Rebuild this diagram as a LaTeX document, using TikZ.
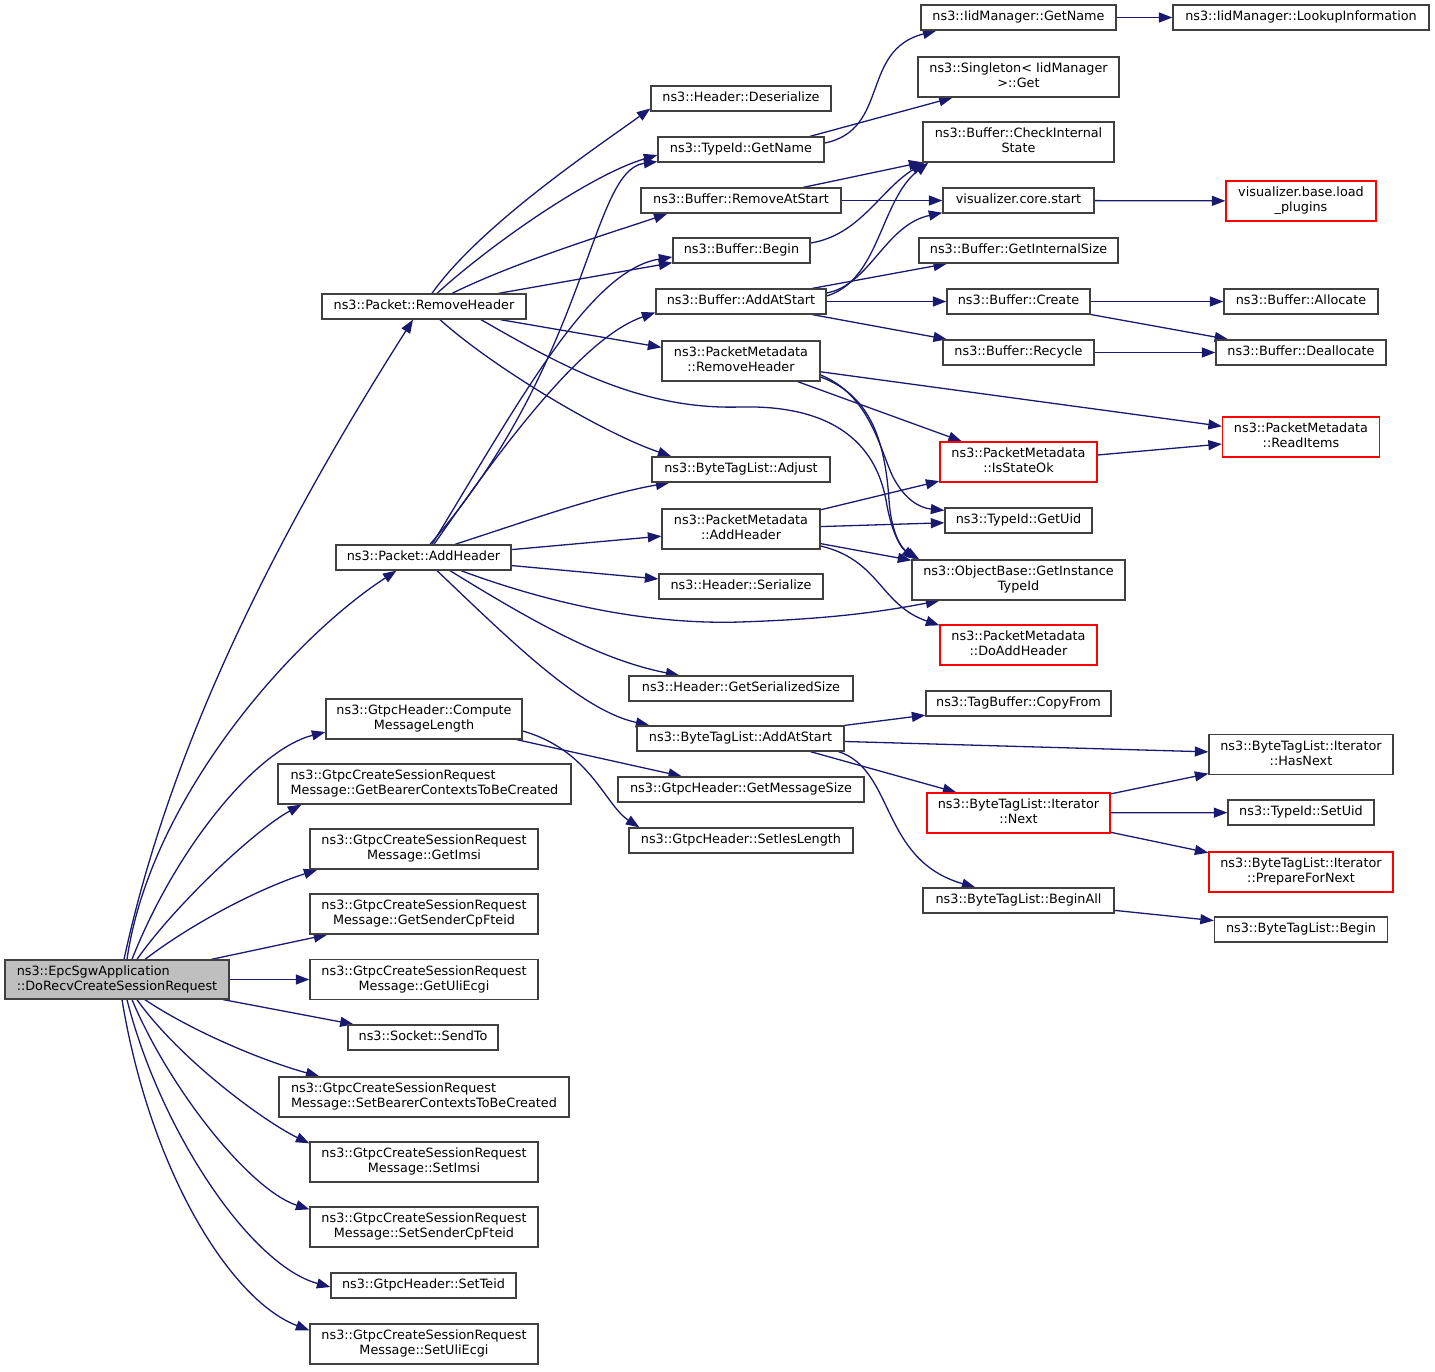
\documentclass[tikz,border=0pt]{standalone}
\usepackage{fontspec}
\setmainfont{DejaVu Sans}
\usetikzlibrary{arrows.meta,calc}
\definecolor{edgec}{HTML}{191970}
\definecolor{boxc}{HTML}{404040}
\definecolor{rootfill}{HTML}{BFBFBF}
\definecolor{redc}{HTML}{FF0000}
\newcommand{\nfont}{\fontsize{12.8}{15}\selectfont}
\newcommand{\mystrut}{\vrule height 9.6pt depth 3.2pt width 0pt}
\pgfdeclarelayer{bg}
\pgfsetlayers{bg,main}
\begin{document}
\begin{tikzpicture}[x=1pt,y=-1pt,
  box/.style={draw=boxc, line width=1.3pt, fill=white, inner sep=0pt, font=\nfont, align=center,
    execute at begin node=\mystrut, execute at end node=\mystrut},
  rbox/.style={box, draw=redc},
  wh/.style 2 args={minimum width=#1pt, minimum height=#2pt},
  e/.style={draw=edgec, line width=1.3pt, -{Triangle[length=13.5pt,width=10pt]}}]
\useasboundingbox (0,0) rectangle (1435,1371);

% root
\node[box,wh={224}{39},fill=rootfill,align=left] (root) at (117,979.5) {ns3::EpcSgwApplication\\::DoRecvCreateSessionRequest};

% column 1
\node[box,wh={204}{25}] (prh) at (424,306.5) {ns3::Packet::RemoveHeader};
\node[box,wh={175}{25}] (pah) at (423.5,557.5) {ns3::Packet::AddHeader};
\node[box,wh={196}{40}] (gcml) at (424,719) {ns3::GtpcHeader::Compute\\MessageLength};
\node[box,wh={293}{40},align=left] (gbc) at (424.5,784) {ns3::GtpcCreateSessionRequest\\Message::GetBearerContextsToBeCreated};
\node[box,wh={228}{40}] (gimsi) at (424,849) {ns3::GtpcCreateSessionRequest\\Message::GetImsi};
\node[box,wh={228}{40}] (gscf) at (424,914) {ns3::GtpcCreateSessionRequest\\Message::GetSenderCpFteid};
\node[box,wh={228}{40}] (guli) at (424,979.5) {ns3::GtpcCreateSessionRequest\\Message::GetUliEcgi};
\node[box,wh={150}{25}] (sendto) at (423,1037.5) {ns3::Socket::SendTo};
\node[box,wh={290}{40},align=left] (sbc) at (424,1097) {ns3::GtpcCreateSessionRequest\\Message::SetBearerContextsToBeCreated};
\node[box,wh={228}{40}] (simsi) at (424,1162) {ns3::GtpcCreateSessionRequest\\Message::SetImsi};
\node[box,wh={228}{40}] (sscf) at (424,1227) {ns3::GtpcCreateSessionRequest\\Message::SetSenderCpFteid};
\node[box,wh={185}{25}] (steid) at (423.5,1285.5) {ns3::GtpcHeader::SetTeid};
\node[box,wh={228}{40}] (suli) at (424,1344) {ns3::GtpcCreateSessionRequest\\Message::SetUliEcgi};

% column 2
\node[box,wh={180}{25}] (hdes) at (741,98.5) {ns3::Header::Deserialize};
\node[box,wh={166}{25}] (tgn) at (741,149.5) {ns3::TypeId::GetName};
\node[box,wh={200}{25}] (brs) at (741,200.5) {ns3::Buffer::RemoveAtStart};
\node[box,wh={137}{25}] (bbeg) at (741.5,250.5) {ns3::Buffer::Begin};
\node[box,wh={170}{25}] (bas) at (741,301.5) {ns3::Buffer::AddAtStart};
\node[box,wh={158}{40}] (pmrh) at (741,361) {ns3::PacketMetadata\\::RemoveHeader};
\node[box,wh={178}{25}] (bta) at (741,469.5) {ns3::ByteTagList::Adjust};
\node[box,wh={158}{40}] (pmah) at (741,529) {ns3::PacketMetadata\\::AddHeader};
\node[box,wh={164}{25}] (hser) at (741,586.5) {ns3::Header::Serialize};
\node[box,wh={224}{25}] (hgss) at (741,688.5) {ns3::Header::GetSerializedSize};
\node[box,wh={207}{25}] (btaas) at (740.5,738.5) {ns3::ByteTagList::AddAtStart};
\node[box,wh={246}{25}] (gms) at (741,789.5) {ns3::GtpcHeader::GetMessageSize};
\node[box,wh={224}{25}] (sil) at (741,840.5) {ns3::GtpcHeader::SetIesLength};

% column 3
\node[box,wh={195}{25}] (iidgn) at (1018.5,17.5) {ns3::IidManager::GetName};
\node[box,wh={201}{40}] (sing) at (1018.5,77) {ns3::Singleton< IidManager\\>::Get};
\node[box,wh={191}{40}] (bcis) at (1018.5,142) {ns3::Buffer::CheckInternal\\State};
\node[box,wh={151}{25}] (vcs) at (1018.5,200.5) {visualizer.core.start};
\node[box,wh={199}{25}] (bgis) at (1018.5,250.5) {ns3::Buffer::GetInternalSize};
\node[box,wh={143}{25}] (bcre) at (1018.5,301.5) {ns3::Buffer::Create};
\node[box,wh={151}{25}] (brec) at (1018.5,352.5) {ns3::Buffer::Recycle};
\node[rbox,wh={157}{40}] (pmiso) at (1018.5,462) {ns3::PacketMetadata\\::IsStateOk};
\node[box,wh={147}{25}] (tguid) at (1018.5,520.5) {ns3::TypeId::GetUid};
\node[box,wh={213}{40}] (obgit) at (1018.5,580) {ns3::ObjectBase::GetInstance\\TypeId};
\node[rbox,wh={157}{40}] (pmdah) at (1018.5,645) {ns3::PacketMetadata\\::DoAddHeader};
\node[box,wh={185}{25}] (tbcf) at (1018.5,703.5) {ns3::TagBuffer::CopyFrom};
\node[rbox,wh={183}{40}] (itnext) at (1018.5,813) {ns3::ByteTagList::Iterator\\::Next};
\node[box,wh={191}{25}] (btba) at (1018.5,900.5) {ns3::ByteTagList::BeginAll};

% column 4
\node[box,wh={256}{25}] (lookup) at (1301,17.5) {ns3::IidManager::LookupInformation};
\node[rbox,wh={150}{40}] (vbl) at (1301,201) {visualizer.base.load\\\_plugins};
\node[box,wh={154}{25}] (balloc) at (1301,301.5) {ns3::Buffer::Allocate};
\node[box,wh={170}{25}] (bdealloc) at (1301,352.5) {ns3::Buffer::Deallocate};
\node[rbox,wh={157}{40}] (pmri) at (1301,437) {ns3::PacketMetadata\\::ReadItems};
\node[box,wh={184}{40}] (ithas) at (1301,754.5) {ns3::ByteTagList::Iterator\\::HasNext};
\node[box,wh={146}{25}] (tgsuid) at (1301,812.5) {ns3::TypeId::SetUid};
\node[rbox,wh={184}{40}] (itpfn) at (1301,872) {ns3::ByteTagList::Iterator\\::PrepareForNext};
\node[box,wh={173}{25}] (btbeg) at (1301,929.5) {ns3::ByteTagList::Begin};

\begin{pgfonlayer}{bg}
% root edges
\draw[e] ($(root.north)+(7,0)$) .. controls (165,770) and (254.5,569) .. ($(prh.south)+(-11,0)$);
\draw[e] ($(root.north)+(10,0)$) .. controls (150,800) and (290,640) .. ($(pah.south)+(-27,0)$);
\draw[e] ($(root.north)+(15,0)$) .. controls (175,850) and (255,750) .. ($(gcml.west)+(0,13)$);
\draw[e] ($(root.north)+(20,0)$) .. controls (175,905) and (255,830) .. ($(gbc.south west)+(24,0)$);
\draw[e] ($(root.north)+(28,0)$) .. controls (190,925) and (255,890) .. ($(gimsi.south west)+(8,0)$);
\draw[e] (root) -- (gscf);
\draw[e] (root) -- (guli);
\draw[e] (root) -- (sendto);
\draw[e] ($(root.south)+(28,0)$) .. controls (190,1030) and (260,1060) .. ($(sbc.north west)+(41,0)$);
\draw[e] ($(root.south)+(20,0)$) .. controls (180,1060) and (265,1122) .. ($(simsi.north west)+(0,2)$);
\draw[e] ($(root.south)+(15,0)$) .. controls (170,1090) and (250,1190) .. ($(sscf.north west)+(0,3)$);
\draw[e] ($(root.south)+(10,0)$) .. controls (160,1130) and (250,1265) .. ($(steid.west)+(0,1.5)$);
\draw[e] ($(root.south)+(5,0)$) .. controls (150,1170) and (230,1300) .. ($(suli.north west)+(0,7)$);

% Packet::RemoveHeader
\draw[e] ($(prh.north)+(8,0)$) .. controls (480,225) and (600,145) .. ($(hdes.west)+(0,10)$);
\draw[e] ($(prh.north)+(13,0)$) .. controls (490,245) and (590,175) .. ($(tgn.west)+(0,5.5)$);
\draw[e] ($(prh.north)+(28,0)$) .. controls (520,260) and (620,230) .. ($(brs.south west)+(27,0)$);
\draw[e] (prh) -- (bbeg);
\draw[e] (prh) -- (pmrh);
\draw[e] ($(prh.south)+(16,0)$) .. controls (490,365) and (600,432) .. ($(bta.north west)+(20,0)$);
\draw[e] ($(prh.south)+(57,0)$) .. controls (560,365) and (640,410) .. (740,407) .. controls (860,404) and (880,470) .. (886,500) .. controls (890,525) and (898,545) .. ($(obgit.north west)+(4,0)$);

% Packet::AddHeader
\draw[e] ($(pah.north)+(6.5,0)$) .. controls (590,360) and (590,170) .. ($(tgn.south west)+(0,-1)$);
\draw[e] ($(pah.north)+(8.5,0)$) .. controls (520,400) and (590,270) .. ($(bbeg.west)+(0,6.5)$);
\draw[e] ($(pah.north)+(10.5,0)$) .. controls (520,420) and (590,335) .. ($(bas.west)+(0,11)$);
\draw[e] ($(pah.north)+(31.5,0)$) .. controls (530,520) and (600,495) .. ($(bta.south west)+(18,0)$);
\draw[e] (pah) -- (pmah);
\draw[e] (pah) -- (hser);
\draw[e] ($(pah.south)+(37.5,0)$) .. controls (540,600) and (640,625) .. (740,622) .. controls (830,619) and (880,612) .. ($(obgit.south west)+(28,0)$);
\draw[e] ($(pah.south)+(26.5,0)$) .. controls (530,620) and (600,660) .. ($(hgss.north west)+(51,0)$);
\draw[e] ($(pah.south)+(13.5,0)$) .. controls (510,640) and (580,710) .. ($(btaas.north west)+(13,0)$);

% ComputeMessageLength
\draw[e] (gcml) -- (gms);
\draw[e] ($(gcml.east)+(0,12)$) .. controls (590,750) and (605,805) .. ($(sil.north west)+(11,0)$);

% TypeId::GetName
\draw[e] ($(tgn.east)+(0,-6.5)$) .. controls (890,130) and (860,50) .. ($(iidgn.south west)+(16,0)$);
\draw[e] ($(tgn.north)+(69,0)$) -- ($(sing.south)+(-66,0)$);
\draw[e] (iidgn) -- (lookup);

% Buffer
\draw[e] (brs) -- (bcis);
\draw[e] (brs) -- (vcs);
\draw[e] ($(bbeg.east)+(0,-7.5)$) .. controls (860,235) and (880,190) .. ($(bcis.south west)+(2,0)$);
\draw[e] ($(bas.east)+(0,-5.5)$) .. controls (880,280) and (880,200) .. ($(bcis.south west)+(6,0)$);
\draw[e] ($(bas.east)+(0,-8.5)$) .. controls (870,285) and (885,225) .. ($(vcs.south west)+(0,-1)$);
\draw[e] (bas) -- (bgis);
\draw[e] (bas) -- (bcre);
\draw[e] (bas) -- (brec);
\draw[e] (bcre) -- (balloc);
\draw[e] (bcre) -- (bdealloc);
\draw[e] (brec) -- (bdealloc);
\draw[e] (vcs) -- (vbl);

% PacketMetadata::RemoveHeader
\draw[e] (pmrh) -- (pmri);
\draw[e] (pmrh) -- (pmiso);
\draw[e] ($(pmrh.east)+(0,14)$) .. controls (870,395) and (880,450) .. (893,477) .. controls (905,500) and (920,508) .. ($(tguid.north west)+(0,3)$);
\draw[e] ($(pmrh.east)+(0,16)$) .. controls (870,395) and (885,440) .. (889,500) .. controls (891,530) and (900,548) .. ($(obgit.north west)+(8,0)$);
\draw[e] (pmiso) -- (pmri);

% PacketMetadata::AddHeader
\draw[e] (pmah) -- (pmiso);
\draw[e] (pmah) -- (tguid);
\draw[e] (pmah) -- (obgit);
\draw[e] ($(pmah.east)+(0,17)$) .. controls (880,560) and (880,605) .. ($(pmdah.north west)+(0,1)$);

% ByteTagList
\draw[e] (btaas) -- (tbcf);
\draw[e] (btaas) -- (ithas);
\draw[e] ($(btaas.south)+(70,0)$) -- ($(itnext.north west)+(30,0)$);
\draw[e] ($(btaas.south east)+(-6,0)$) .. controls (895,770) and (880,860) .. ($(btba.north west)+(53,0)$);
\draw[e] (itnext) -- (ithas);
\draw[e] (itnext) -- (tgsuid);
\draw[e] (itnext) -- (itpfn);
\draw[e] (btba) -- (btbeg);
\end{pgfonlayer}
\end{tikzpicture}
\end{document}
